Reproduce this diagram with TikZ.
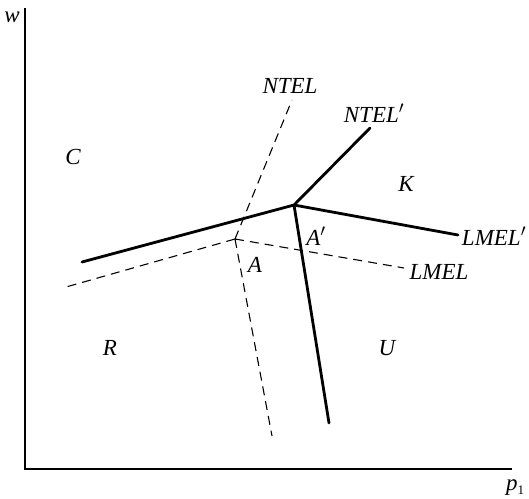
\documentclass[tikz,border=0pt]{standalone}
\usepackage{fontspec}
\setmainfont{Liberation Serif}
\usetikzlibrary{calc}
\begin{document}
\begin{tikzpicture}[x=1pt,y=-1pt,
  axis/.style={line width=1.3pt},
  solidln/.style={line width=2.8pt},
  dashln/.style={line width=1.1pt, dash pattern=on 9pt off 6pt},
  lbl/.style={inner sep=0pt, font=\fontsize{23}{26}\selectfont\itshape}]
\useasboundingbox (0,0) rectangle (529,498);
% axes
\coordinate (top) at (25,8);
\coordinate (origin) at (25,469);
\coordinate (right) at (512,469);
\draw[axis] (top) -- (origin) -- (right);
\node[lbl] (w) at (12,17) {w};
\node[lbl] (p1) at (515,488) {p\raisebox{-4pt}{\upshape\fontsize{13}{13}\selectfont 1}};
% solid lines
\coordinate (kink) at (294,205);
\coordinate (sL) at (82,262);
\coordinate (sN) at (370,128);
\coordinate (sM) at (458,235);
\coordinate (sD) at (329,423);
\draw[solidln, line cap=round, line join=round] (sL) -- (kink) -- (sN);
\draw[solidln, line cap=round] (kink) -- (sM);
\draw[solidln, line cap=round] (kink) -- (sD);
% dashed lines
\coordinate (cen) at (235,239);
\coordinate (dL) at (66,287);
\coordinate (dN) at (292,100);
\coordinate (dM) at (404,268);
\coordinate (dD) at (272,436);
\draw[dashln] (cen) -- (dL);
\draw[dashln] (cen) -- (dN);
\draw[dashln] (cen) -- (dM);
\draw[dashln] (cen) -- (dD);
% labels
\node[lbl] (C) at (73,157) {C};
\node[lbl] (K) at (406,184) {K};
\node[lbl] (R) at (110,348) {R};
\node[lbl] (U) at (387,348) {U};
\node[lbl] (A) at (255,265) {A};
\node[lbl] (A2) at (316,236) {A$'$};
\node[lbl] (NTEL) at (290,86) {NTEL};
\node[lbl] (NTEL2) at (374,113) {NTEL$'$};
\node[lbl] (LMEL) at (439,272) {LMEL};
\node[lbl] (LMEL2) at (494,236) {LMEL$'$};
\end{tikzpicture}
\end{document}
